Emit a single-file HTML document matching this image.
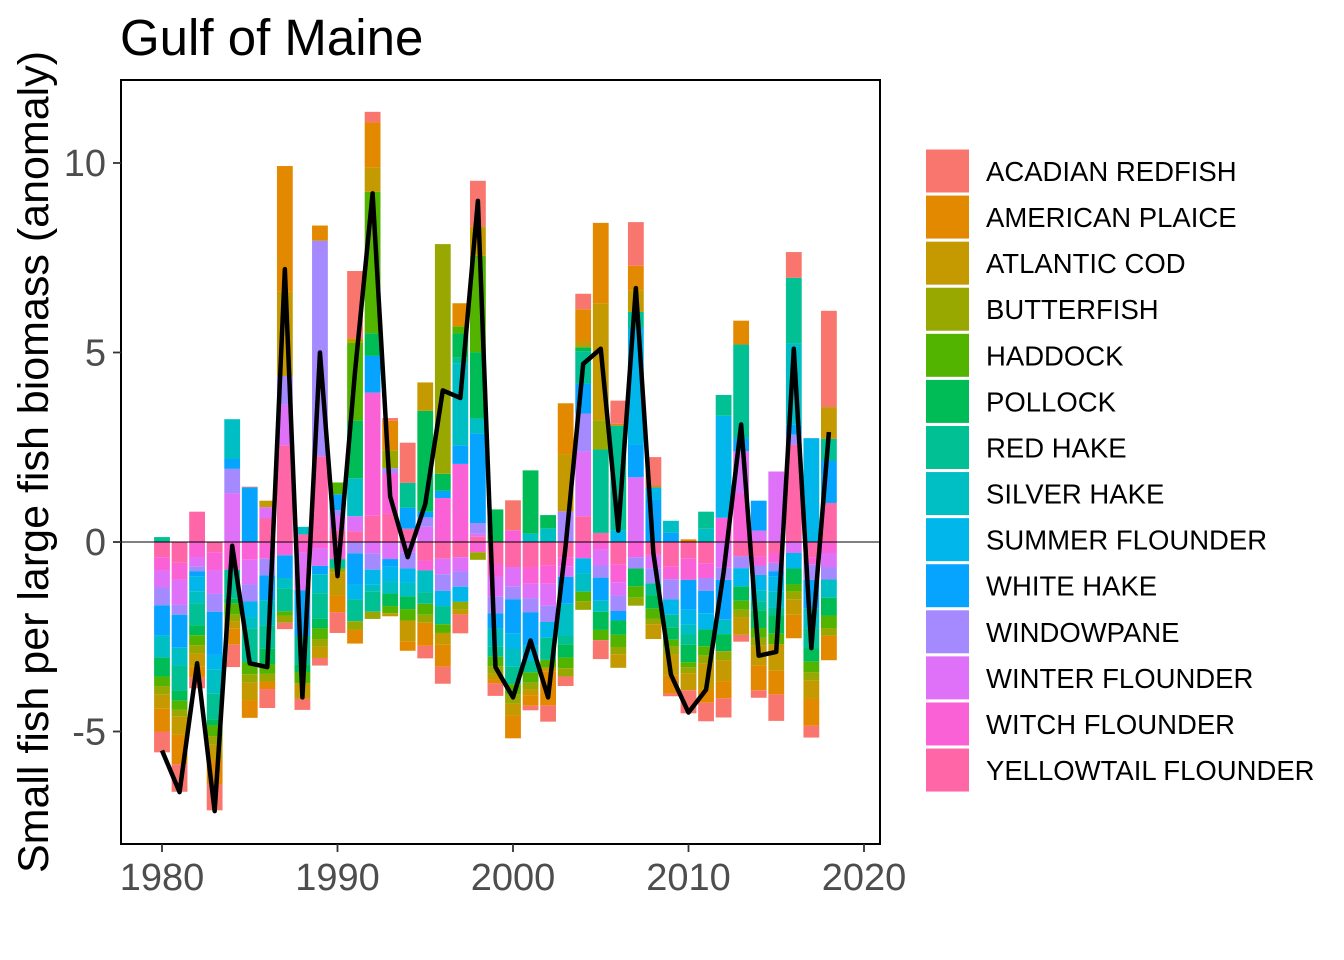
<!DOCTYPE html>
<html><head><meta charset="utf-8"><style>
body{margin:0;background:#fff;}
svg{display:block;font-family:"Liberation Sans",sans-serif;}
</style></head><body>
<svg id="chart" width="1344" height="960" viewBox="0 0 1344 960">
<text x="120" y="55" font-size="51" fill="#000">Gulf of Maine</text>
<text transform="translate(48,462) rotate(-90)" text-anchor="middle" font-size="43" fill="#000">Small fish per large fish biomass (anomaly)</text>
<g id="bars"></g>
<g id="axes"></g>
<g id="legend"></g>
</svg>
<script>
const years = [];
for (let y = 1980; y <= 2018; y++) years.push(y);
const speciesNames = ["ACADIAN REDFISH","AMERICAN PLAICE","ATLANTIC COD","BUTTERFISH","HADDOCK","POLLOCK","RED HAKE","SILVER HAKE","SUMMER FLOUNDER","WHITE HAKE","WINDOWPANE","WINTER FLOUNDER","WITCH FLOUNDER","YELLOWTAIL FLOUNDER"];
const speciesColors = ["#F8766D","#E38900","#C49A00","#99A800","#53B400","#00BC56","#00C094","#00BFC4","#00B6EB","#06A4FF","#A58AFF","#DF70F8","#FB61D7","#FF66A8"];
const yTicks = [-5, 0, 5, 10];
const xTicks = [1980, 1990, 2000, 2010, 2020];
// one array per species, indexed by year 1980..2018
const acadianRedfish = [-.55,-.73,-.28,-.68,-.59,.02,-.5,-.17,-.3,-.2,-.55,1.77,.28,.07,1.06,-.33,-.45,-.5,1.2,-.33,.79,-.12,-.43,-.25,.41,-.5,.61,1.15,.75,-.07,-.61,-.49,-.51,-.18,-.2,-.7,.68,-.31,2.54];
const americanPlaice = [-.6,-.77,-.29,-.66,-.42,-.47,-.2,3.32,0,.4,-.45,-.36,1.18,.78,-.25,-.61,-.58,.61,0,-.09,-.6,-.28,-.9,1.34,.85,2.12,.05,.65,.05,-.47,.07,-.35,-.45,.63,-.66,-.62,-.62,-.72,-.65];
const atlanticCod = [-.37,-.48,-.35,-.4,-.19,-.46,.17,2.22,-.4,-.3,-.6,.12,.65,-.08,-.55,.75,-.31,-.12,.78,-.16,-.31,-.16,-.1,1.51,.15,3.09,-.36,.57,-.39,-.56,-.45,-.68,-.54,-.47,-.53,-.7,-.41,-.47,.84];
const butterfish = [-.22,-.18,-.22,-.22,-.18,-.22,-.2,-.18,0,-.2,-.1,-.23,-.19,.47,0,-.21,6.06,-.21,-.2,-.2,-.24,-.17,0,-.22,-.23,.77,-.19,-.21,-.14,-.21,-.16,-.21,-.25,-.19,-.19,0,-.2,-.22,-.2];
const haddock = [-.26,-.24,-.26,-.28,-.29,-.31,-.26,-.12,-.3,-.28,.31,2.05,3.73,-.19,-.3,-.29,-.23,.19,2.54,-.25,-.28,-.27,-.2,-.28,-.25,-.27,-.32,-.3,-.27,-.18,-.13,-.25,0,-.24,-.26,-.28,-.19,-.28,-.33];
const pollock = [-.5,-.26,-.26,-.16,-.13,0,-.4,0,-.2,-.25,0,1.53,.6,-.33,-.33,2.66,.45,.64,1.75,.86,0,1.67,.35,-.35,.11,-.48,-.38,-.47,-.35,-.32,-.46,-.44,-.45,-.38,-.47,-.48,-.42,-.35,-.47];
const redHake = [.13,-.67,-.58,-.69,-.77,-.9,-.62,-.6,-.75,-.68,-.25,-.57,-.54,0,.66,-.3,-.48,.14,0,-.28,-.47,-.3,-.58,-.22,.85,2.2,2.77,.41,-.32,-.34,-.27,.45,.55,2.48,-.24,-.2,1.73,-.53,.57];
const silverHake = [-.58,-.47,-.32,-.62,1.05,-.3,-.66,-.28,.2,-.5,0,1.0,-.17,-.33,-.36,-.58,0,2.17,.4,-.47,-.47,.22,.36,-.85,-.49,-.29,0,0,0,.32,-.26,.35,-.38,0,-.29,-.44,2.15,-.53,-.48];
const summerFlounder = [0,0,-.4,-.39,0,-.41,0,0,0,0,0,-.4,-.4,-.38,-.38,0,-.4,-.4,0,0,-.4,-.4,-.42,0,-.39,0,.3,3.1,.32,-.41,-.39,-.43,2.69,-.48,-.4,-.4,-.41,2.74,0];
const whiteHake = [-.8,-.87,-.13,-1.14,.26,1.44,-.66,-.6,-1.2,-.22,.42,-.82,.97,-.2,.55,.15,.19,.49,2.36,-.4,-.9,-.88,0,-.71,.79,-.61,-.25,.85,1.12,.24,-.79,-.59,-1.05,.33,.79,-.13,.26,-.75,1.12];
const windowpane = [-.47,-.26,-.13,-.47,.64,-.45,-.44,.75,0,5.69,.14,-.3,-.43,.13,-.42,.25,-.44,-.4,.28,-.45,-.33,-.38,-.43,.81,1.0,-.32,-.41,-.3,-.4,-.53,0,-.34,-.32,-.31,-.25,-.22,.26,-.4,-.33];
const winterFlounder = [-.45,-.66,-.23,-.62,1.29,-.65,.3,1.08,-1.0,-.47,.4,.4,-.3,-.45,-.28,.4,-.41,-.38,.08,-.52,-.52,-.38,-.58,-.28,1.71,-.42,-.35,1.71,-.35,0,0,0,-.68,1.12,.3,1.86,-.29,0,-.37];
const witchFlounder = [-.35,-.45,-.41,-.48,-.73,-.47,-.44,-.35,-.28,-.16,-.45,0,3.25,1.07,0,-.26,1.16,2.06,-.27,-.33,.31,-.44,-.49,-.24,-.43,-.2,-.47,-.4,0,-.34,-.57,-.39,.64,1.28,-.24,-.26,0,-.2,-.29];
const yellowtailFlounder = [-.4,-.55,.8,-.27,0,0,.62,2.55,.2,2.26,.3,.28,.69,.75,.35,-.49,-.44,-.4,.14,-.58,-.66,-.66,-.61,-.4,.68,.24,-.59,0,-.34,-.64,-.43,-.56,0,-.38,-.38,-.29,2.57,-.4,1.03];
const totalAnomaly = [-5.5,-6.6,-3.2,-7.1,-0.1,-3.2,-3.3,7.2,-4.1,5.0,-0.9,4.5,9.2,1.2,-0.4,1.0,4.0,3.8,9.0,-3.3,-4.1,-2.6,-4.1,-0.1,4.7,5.1,0.3,6.7,-0.3,-3.5,-4.5,-3.9,-0.8,3.1,-3.0,-2.9,5.1,-2.8,2.9];

const seriesValues = [acadianRedfish,americanPlaice,atlanticCod,butterfish,haddock,pollock,redHake,silverHake,summerFlounder,whiteHake,windowpane,winterFlounder,witchFlounder,yellowtailFlounder];

const NS = "http://www.w3.org/2000/svg";
const panel = {l:121, t:80, r:880, b:844};
function xScale(yr){ return 162 + (yr - 1980) * 17.55; }
function yScale(v){ return 542 - v * 37.9; }
function mk(tag, attrs, parent){ const e = document.createElementNS(NS, tag); for (const k in attrs) e.setAttribute(k, attrs[k]); parent.appendChild(e); return e; }

const barsG = document.getElementById('bars');
const axesG = document.getElementById('axes');
const legG = document.getElementById('legend');
const bw = 15.8;
years.forEach((yr, i) => {
  let pos = 0, neg = 0;
  for (let s = seriesValues.length - 1; s >= 0; s--) {
    const v = seriesValues[s][i];
    if (!v) continue;
    let y0, y1;
    if (v > 0) { y0 = pos; y1 = pos + v; pos = y1; } else { y0 = neg; y1 = neg + v; neg = y1; }
    const r = mk('rect', {x: xScale(yr) - bw/2, y: Math.min(yScale(y0), yScale(y1)), width: bw, height: Math.abs(yScale(y0) - yScale(y1)), fill: speciesColors[s]}, barsG);
    
    
  }
});
const zl = mk('line', {x1: panel.l, x2: panel.r, y1: yScale(0), y2: yScale(0), stroke: '#000', 'stroke-width': 1}, barsG);


const pts = years.map((yr, i) => xScale(yr) + ',' + yScale(totalAnomaly[i])).join(' ');
const tl = mk('polyline', {points: pts, fill: 'none', stroke: '#000', 'stroke-width': 4.5, 'stroke-linejoin': 'round'}, barsG);



const border = mk('rect', {x: panel.l, y: panel.t, width: panel.r - panel.l, height: panel.b - panel.t, fill: 'none', stroke: '#000', 'stroke-width': 2}, axesG);


yTicks.forEach(v => {
  const t = mk('line', {x1: 113, x2: panel.l, y1: yScale(v), y2: yScale(v), stroke: '#333', 'stroke-width': 1.8}, axesG);
  
  
  const lb = mk('text', {x: 106, y: yScale(v) + 13, 'text-anchor': 'end', 'font-size': 38, fill: '#4D4D4D'}, axesG);
  lb.textContent = v;
  
  
});
xTicks.forEach(v => {
  const t = mk('line', {x1: xScale(v), x2: xScale(v), y1: panel.b, y2: panel.b + 8, stroke: '#333', 'stroke-width': 1.8}, axesG);
  
  
  const lb = mk('text', {x: xScale(v), y: 890, 'text-anchor': 'middle', 'font-size': 38, fill: '#4D4D4D'}, axesG);
  lb.textContent = v;
  
  
});
speciesNames.forEach((n, i) => {
  const cy = 171 + i * 46.08;
  const k = mk('rect', {x: 926, y: cy - 21.5, width: 43, height: 43, fill: speciesColors[i]}, legG);
  
  
  const t = mk('text', {x: 986, y: cy + 10, 'font-size': 27.5, fill: '#000'}, legG);
  t.textContent = n;
  
  
});
</script>
</body></html>
